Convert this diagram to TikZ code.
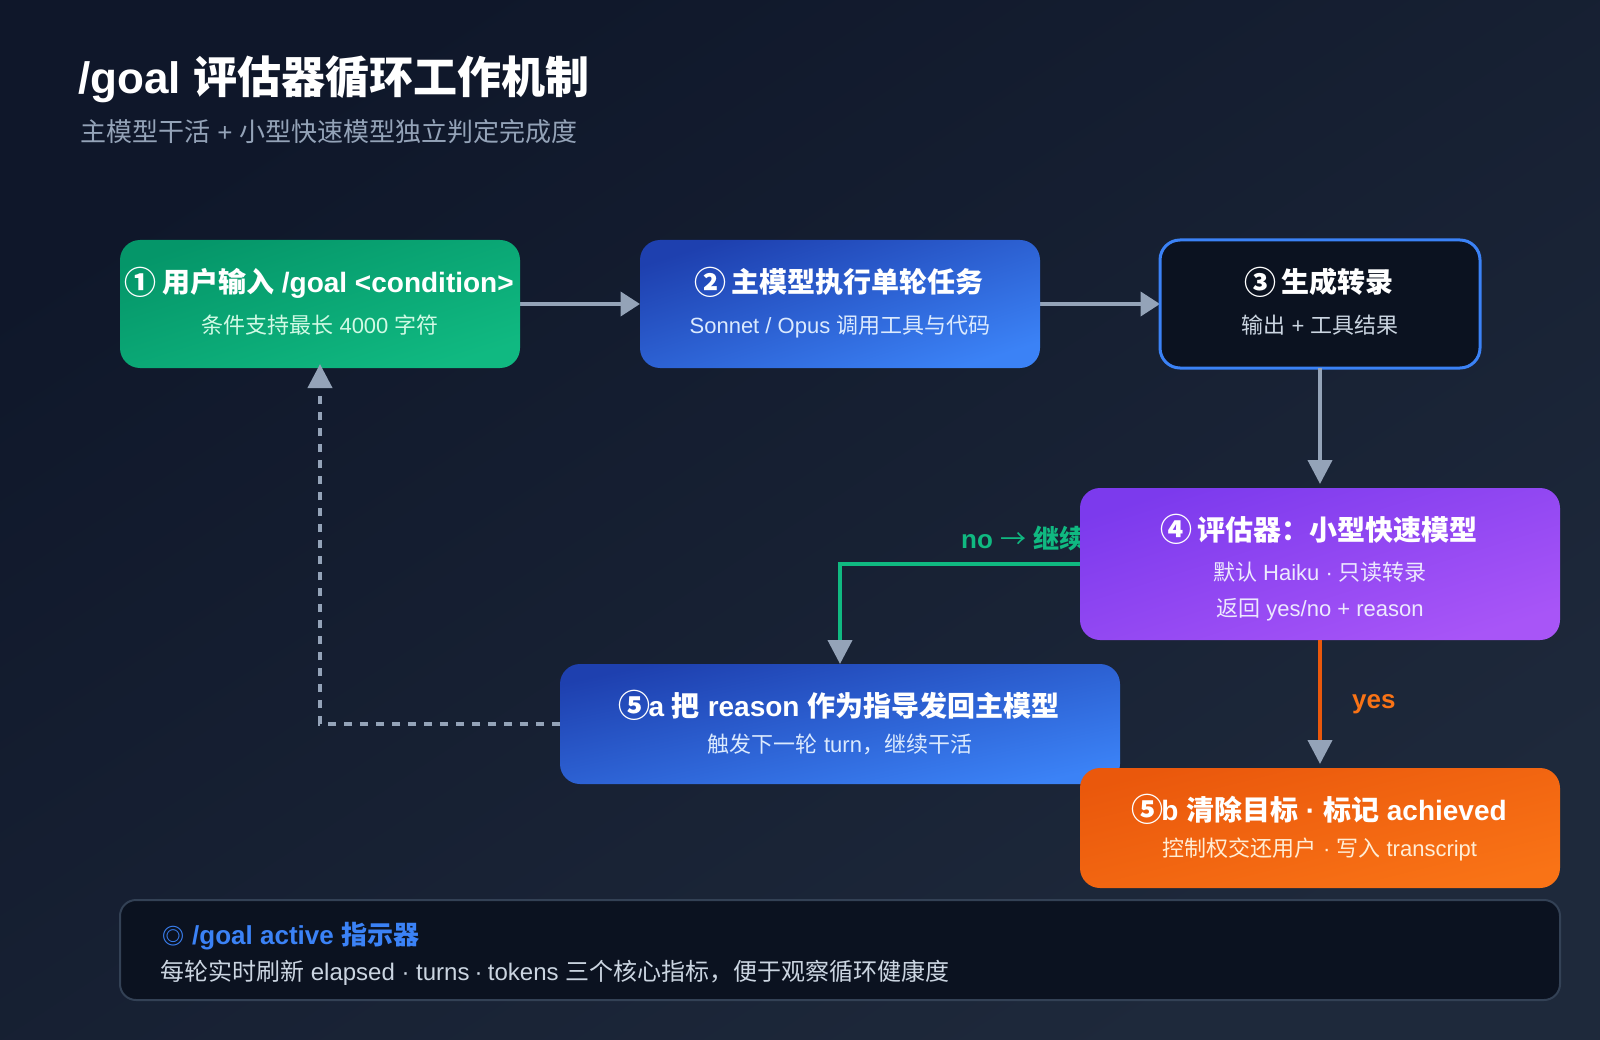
\documentclass[tikz,border=0pt]{standalone}
\usepackage{fontspec}
\usetikzlibrary{arrows.meta}
\setmainfont{Liberation Sans}
\newfontfamily\cjk{Noto Sans CJK SC}
\newcommand{\zh}[1]{{\cjk #1}}
\newcommand{\fs}[1]{\fontsize{#1}{#1}\selectfont}
\newcommand{\ring}[1]{\makebox[28pt]{\raisebox{-1.5pt}{\cjk\bfseries\fontsize{32}{32}\selectfont #1}}}
\definecolor{bgA}{HTML}{0F172A}
\definecolor{bgB}{HTML}{1E293B}
\definecolor{grA}{HTML}{059669}
\definecolor{grB}{HTML}{10B981}
\definecolor{blA}{HTML}{1E40AF}
\definecolor{blB}{HTML}{3B82F6}
\definecolor{puA}{HTML}{7C3AED}
\definecolor{puB}{HTML}{A855F7}
\definecolor{orA}{HTML}{EA580C}
\definecolor{orB}{HTML}{F97316}
\definecolor{panel}{HTML}{0B1220}
\definecolor{edgeC}{HTML}{334155}
\definecolor{arrowC}{HTML}{94A3B8}
\definecolor{subC}{HTML}{CBD5E1}
\definecolor{subG}{HTML}{D1FAE5}
\definecolor{subB}{HTML}{DBEAFE}
\definecolor{subP}{HTML}{EDE9FE}
\definecolor{subO}{HTML}{FFEDD5}
\pgfdeclarelayer{back}
\pgfdeclarelayer{under}
\pgfsetlayers{back,under,main}
\tikzset{
  boxbase/.style={anchor=north west,inner sep=0pt,outer sep=0pt,rounded corners=20pt},
  gradbox/.style n args={5}{boxbase,minimum width=#1 pt,minimum height=#2 pt,
     top color=#3,bottom color=#4,middle color=#3!50!#4,shading angle=#5},
  ttl/.style={anchor=base,inner sep=0pt,text=white,font=\fs{28}\bfseries},
  sub/.style={anchor=base,inner sep=0pt,font=\fs{22}},
  flow/.style={line width=4pt,arrowC,-{Triangle[length=24pt,width=24pt,color=arrowC]}},
  flowshort/.style={line width=4pt,arrowC,-{Triangle[length=19.5pt,width=24pt,color=arrowC]}},
}
\begin{document}
\begin{tikzpicture}[x=1pt,y=-1pt]
\useasboundingbox (0,0) rectangle (1600,1040);
\begin{pgfonlayer}{back}
  \path[top color=bgA,bottom color=bgB,middle color=bgA!50!bgB,shading angle=33.02] (0,0) rectangle (1600,1040);
\end{pgfonlayer}

\node[anchor=base west,inner sep=0pt,text=white,font=\fs{44}\bfseries] (title) at (78,94) {/goal \zh{评估器循环工作机制}};
\node[anchor=base west,inner sep=0pt,text=arrowC,font=\fs{26}] (subtitle) at (80,142) {\zh{主模型干活} + \zh{小型快速模型独立判定完成度}};

% boxes
\node[gradbox={400}{128}{grA}{grB}{17.74}] (b1) at (120,240) {};
\node[ttl] (b1t) at (320,293) {\ring{①} \zh{用户输入} /goal <condition>};
\node[sub,text=subG] (b1s) at (320,334) {\zh{条件支持最长} 4000 \zh{字符}};

\node[gradbox={400}{128}{blA}{blB}{17.74}] (b2) at (640,240) {};
\node[ttl] (b2t) at (840,293) {\ring{②} \zh{主模型执行单轮任务}};
\node[sub,text=subB] (b2s) at (840,334) {Sonnet / Opus \zh{调用工具与代码}};

\node[boxbase,minimum width=320pt,minimum height=128pt,fill=panel,draw=blB,line width=3pt] (b3) at (1160,240) {};
\node[ttl] (b3t) at (1320,293) {\ring{③} \zh{生成转录}};
\node[sub,text=subC] (b3s) at (1320,334) {\zh{输出} + \zh{工具结果}};

\node[gradbox={480}{152}{puA}{puB}{17.57}] (b4) at (1080,488) {};
\node[ttl] (b4t) at (1320,540) {\ring{④} \zh{评估器：小型快速模型}};
\node[sub,text=subP] (b4s) at (1320,580) {\zh{默认} Haiku · \zh{只读转录}};
\node[sub,text=subP] (b4r) at (1320,616) {\zh{返回} yes/no + reason};

\node[gradbox={560}{120}{blA}{blB}{12.09}] (b5a) at (560,664) {};
\node[ttl] (b5at) at (840,716) {\ring{⑤}a \zh{把} reason \zh{作为指导发回主模型}};
\node[sub,text=subB] (b5as) at (840,752) {\zh{触发下一轮} turn\zh{，继续干活}};

\node[gradbox={480}{120}{orA}{orB}{14.04}] (b5b) at (1080,768) {};
\node[ttl] (b5bt) at (1320,820) {\ring{⑤}b \zh{清除目标} · \zh{标记} achieved};
\node[sub,text=subO] (b5bs) at (1320,856) {\zh{控制权交还用户} · \zh{写入} transcript};

\node[boxbase,rounded corners=16pt,minimum width=1440pt,minimum height=100pt,fill=panel,draw=edgeC,line width=2pt] (panel) at (120,900) {};
\node[anchor=base west,inner sep=0pt,text=blB,font=\fs{26}\bfseries] (pt) at (162,944) {\makebox[22.8pt][l]{\cjk\fontsize{22}{22}\selectfont ◎} /goal active \zh{指示器}};
\node[anchor=base west,inner sep=0pt,text=subC,font=\fs{24}] (ps) at (160,980) {\zh{每轮实时刷新} elapsed · turns \kern-1.5pt· \kern-1.5pt tokens \zh{三个核心指标，便于观察循环健康度}};

% connectors that pass under the boxes
\begin{pgfonlayer}{under}
  \draw[flowshort] (b1.east |- 0,304) -- (b2.west);
  \draw[flowshort] (b2.east |- 0,304) -- (b3.west);
  \node[anchor=base west,inner sep=0pt,text=grB,font=\fs{26}\bfseries] (nolabel) at (961,548) {no {\cjk\mdseries →} \zh{继续}};
  \coordinate (elbowNo) at (840,564);
  \draw[flow,grB] (b4.west) -- (elbowNo) -- (b5a.north -| elbowNo);
  \node[anchor=base west,inner sep=0pt,text=orB,font=\fs{26}\bfseries] (yeslabel) at (1352,708) {yes};
\end{pgfonlayer}

% connectors over the boxes
\draw[flow] (b3.south) -- ([yshift=4pt]b4.north);
\draw[flow,orA] (b4.south) -- ([yshift=4pt]b5b.north);
\coordinate (elbowBack) at (320,724);
\draw[flow,dash pattern=on 8pt off 8pt] (b5a.west |- elbowBack) -- (elbowBack) -- ([yshift=4pt]b1.south);
\end{tikzpicture}
\end{document}
